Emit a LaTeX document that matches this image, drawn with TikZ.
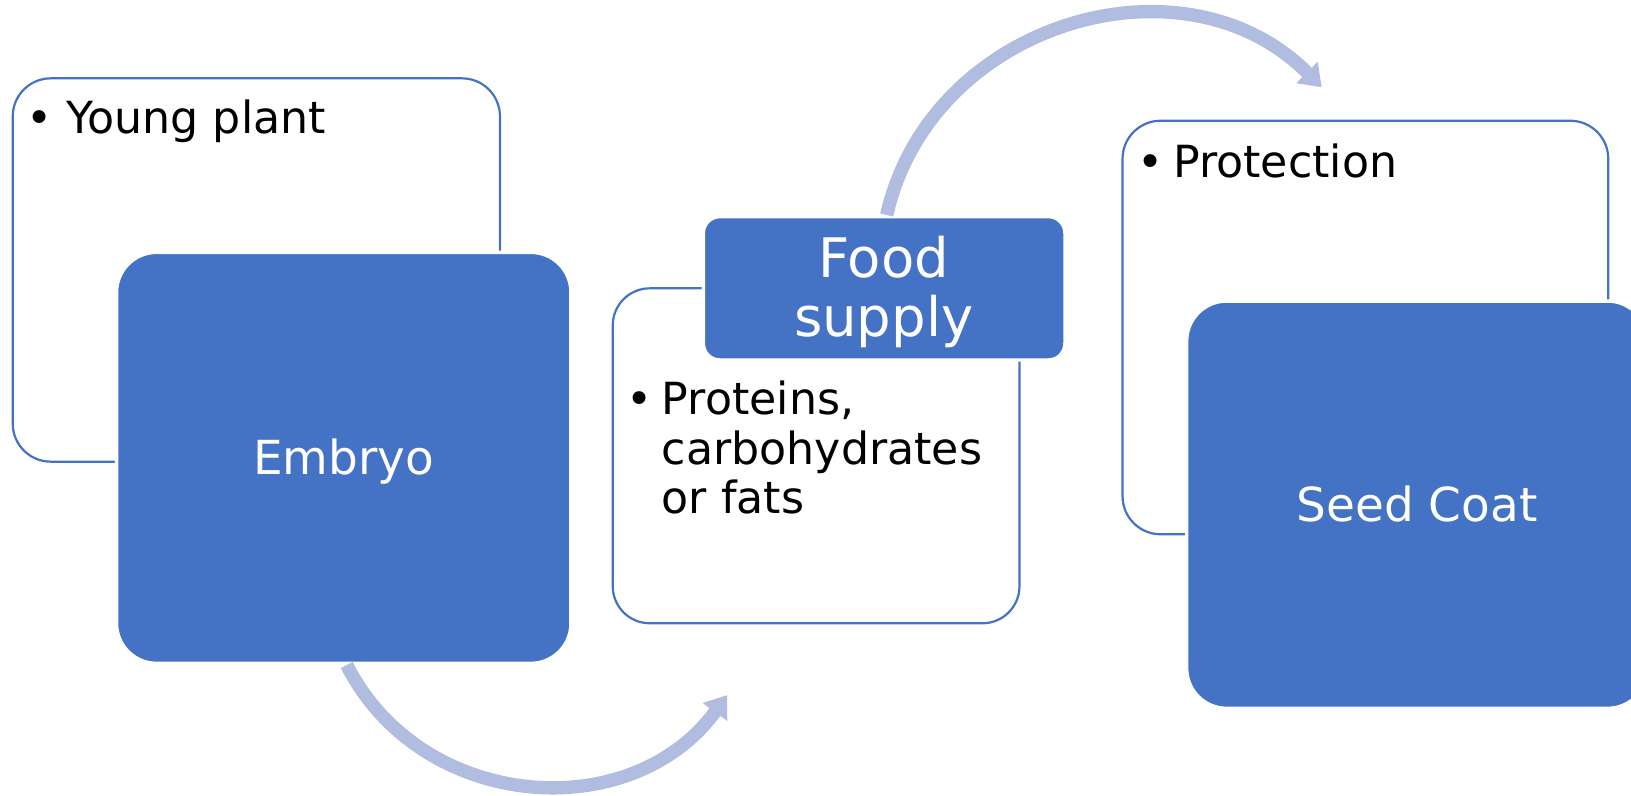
\documentclass[tikz,border=0pt]{standalone}
\usepackage{fontspec}
\setmainfont{DejaVu Sans}
\usetikzlibrary{arrows.meta}
\definecolor{tileblue}{HTML}{4472C4}
\definecolor{arcblue}{HTML}{B0BDE0}

\begin{document}
\begin{tikzpicture}[x=0.02cm,y=0.02cm,
  card/.style={draw=tileblue,line width=1.25pt,fill=white,rounded corners=0.76cm,inner sep=0pt},
  tile/.style={draw=white,line width=1.9pt,fill=tileblue,rounded corners=0.8cm,inner sep=0pt,
    text=white,font=\fontsize{26.7}{30}\selectfont,text height=19.3pt,text depth=0pt},
  item/.style={anchor=base west,inner sep=0pt,font=\fontsize{25.2}{28}\selectfont},
  dot/.style={anchor=base,inner sep=0pt,font=\fontsize{25.2}{28}\selectfont},
  flow/.style={draw=arcblue,line width=7.6pt,-{Triangle[length=0.42cm,width=0.58cm]}}]
\useasboundingbox (0,0) rectangle (1631,795);
\clip (0,0) rectangle (1631,795);

% text panels behind, coloured tiles on top
\node[card,minimum width=9.746cm,minimum height=7.668cm] (young) at (256.35,525) {};
\node[tile,minimum width=9.088cm,minimum height=8.22cm] (embryo) at (343.75,337.15) {Embryo};

\node[card,rounded corners=0.74cm,minimum width=8.136cm,minimum height=6.7cm] (stock) at (816.1,339.2) {};
\node[tile,rounded corners=0.33cm,minimum width=7.232cm,minimum height=2.866cm] (food) at (884.15,506.7) {};
\node[anchor=base,inner sep=0pt,text=white,font=\fontsize{31}{33.8}\selectfont]
  (foodtxt) at (883.7,517.7) {\begin{tabular}[t]{@{}c@{}}Food\\supply\end{tabular}};

\node[card,minimum width=9.716cm,minimum height=8.272cm] (shield) at (1365.4,467.5) {};
\node[tile,minimum width=9.22cm,minimum height=8.146cm] (coat) at (1417.15,290.3) {Seed Coat};

\foreach \n/\bx/\tx/\by/\txt in {%
  young/40/66/661/{Young plant},
  stock/639.3/661.5/380/{Proteins,\\carbohydrates\\or fats},
  shield/1150.7/1173/617.7/{Protection}}{
  \node[dot] (dot-\n) at (\bx,\by) {•};
  \node[item] (txt-\n) at (\tx,\by) {\begin{tabular}[t]{@{}l@{}}\txt\end{tabular}};
}

\coordinate (lowfrom) at (346.7,130);
\coordinate (lowto) at (727.3,100);
\coordinate (highfrom) at (886.7,580);
\coordinate (highto) at (1321.7,707.7);
\draw[flow] (lowfrom) to[out=-63.1,in=233.9,looseness=1.1] (lowto);
\draw[flow] (highfrom) to[out=77.3,in=134.8,looseness=1.11] (highto);
\end{tikzpicture}
\end{document}
